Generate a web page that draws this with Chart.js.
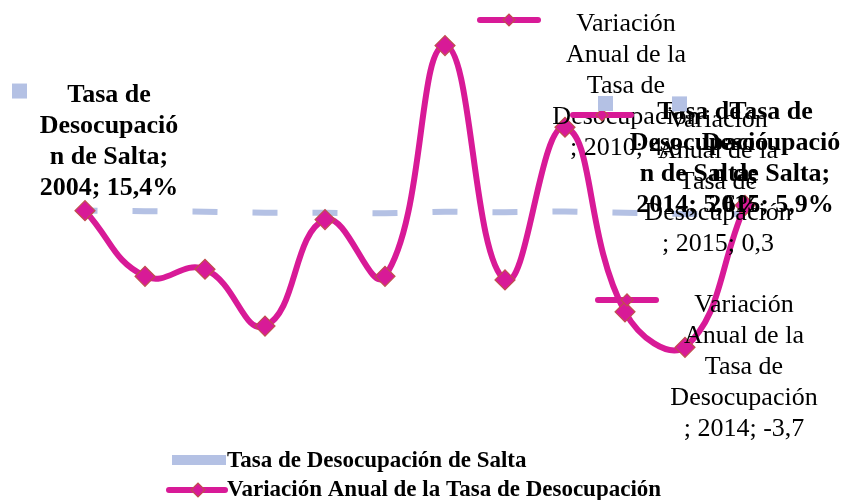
<!DOCTYPE html>
<html>
<head>
<meta charset="utf-8">
<script src="https://cdn.jsdelivr.net/npm/chart.js@4"></script>
<style>
  body { margin: 0; background: #fff; }
</style>
</head>
<body>
<canvas id="chart" width="844" height="500"></canvas>
<script>
// data
const years = ["2004", "2005", "2006", "2007", "2008", "2009", "2010", "2011", "2012", "2013", "2014", "2015"];
const tasaSalta = [15.4, 13.7, 12.2, 9.1, 9.1, 7.4, 12.2, 10.4, 12.9, 9.3, 5.6, 5.9]; // %
const variacion = [0.15, -1.7, -1.5, -3.1, -0.1, -1.7, 4.8, -1.8, 2.5, -2.7, -3.7, 0.3];
const yMin = -4;
const yMax = 6;

const magenta = "#D81A97";
const markerEdge = "#C0504D";
const blue = "#B4C1E4";
const serif = "'Liberation Serif', 'Times New Roman', serif";

// data labels (Excel style, with legend keys); dx/dy relative to the point
const labels = [
  { ds: 0, i: 0, bold: true, dx: 24, dy: -115.5, kx: -89.5, ky: -4 },
  { ds: 1, i: 6, bold: false, dx: 181, dy: -21.6, kx: -117, ky: -4 },
  { ds: 1, i: 11, bold: false, dx: -27, dy: -85.4, kx: -116, ky: -5 },
  { ds: 1, i: 10, bold: false, dx: 59, dy: -42.4, kx: -117, ky: -5 },
  { ds: 0, i: 10, bold: true, dx: 14, dy: -102, kx: -93.5, ky: -8.5 },
  { ds: 0, i: 11, bold: true, dx: 26, dy: -102, kx: -91.5, ky: -8 },
];

const fmt = (v) => String(v).replace(".", ",");

function labelLines(l) {
  if (l.ds === 0) {
    return ["Tasa de", "Desocupació", "n de Salta;", years[l.i] + "; " + fmt(tasaSalta[l.i]) + "%"];
  }
  return ["Variación", "Anual de la", "Tasa de", "Desocupación", "; " + years[l.i] + "; " + fmt(variacion[l.i])];
}

function diamond(ctx, x, y, r) {
  ctx.beginPath();
  ctx.moveTo(x - r, y);
  ctx.lineTo(x, y - r);
  ctx.lineTo(x + r, y);
  ctx.lineTo(x, y + r);
  ctx.closePath();
  ctx.fillStyle = magenta;
  ctx.fill();
  ctx.lineWidth = 1.2;
  ctx.strokeStyle = markerEdge;
  ctx.stroke();
}

function lineKey(ctx, cx, cy) {
  ctx.beginPath();
  ctx.moveTo(cx - 29, cy);
  ctx.lineTo(cx + 29, cy);
  ctx.lineWidth = 6;
  ctx.lineCap = "round";
  ctx.strokeStyle = magenta;
  ctx.stroke();
  diamond(ctx, cx, cy, 6);
}

const labelPlugin = {
  id: "excelLabels",
  afterDatasetsDraw(chart) {
    const ctx = chart.ctx;
    const xs = chart.scales.x;
    const ys = chart.scales.y;
    ctx.save();
    labels.forEach((l) => {
      const px = xs.getPixelForValue(l.i);
      const val = l.ds === 0 ? tasaSalta[l.i] / 100 : variacion[l.i];
      const py = ys.getPixelForValue(val);
      const cx = px + l.dx;
      const cy = py + l.dy;
      // legend key
      if (l.ds === 0) {
        ctx.fillStyle = blue;
        ctx.fillRect(cx + l.kx - 7.5, cy + l.ky - 7.5, 15, 15);
      } else {
        lineKey(ctx, cx + l.kx, cy + l.ky);
      }
      ctx.fillStyle = "#000";
      ctx.textAlign = "center";
      ctx.textBaseline = "middle";
      ctx.font = (l.bold ? "bold " : "") + "26px " + serif;
      labelLines(l).forEach((t, k) => {
        ctx.fillText(t, cx, cy + k * 31);
      });
    });

    // legend at the bottom
    ctx.fillStyle = blue;
    ctx.fillRect(172, 455, 54, 10);
    ctx.beginPath();
    ctx.moveTo(169, 490);
    ctx.lineTo(225, 490);
    ctx.lineWidth = 6;
    ctx.lineCap = "round";
    ctx.strokeStyle = magenta;
    ctx.stroke();
    diamond(ctx, 198, 490, 7);
    ctx.fillStyle = "#000";
    ctx.textAlign = "left";
    ctx.textBaseline = "middle";
    ctx.font = "bold 23px " + serif;
    ctx.fillText(chart.data.datasets[0].label, 227, 461);
    ctx.fillText(chart.data.datasets[1].label, 227, 490);
    ctx.restore();
  },
};

new Chart(document.getElementById("chart"), {
  type: "line",
  data: {
    labels: years,
    datasets: [
      {
        label: "Tasa de Desocupación de Salta",
        data: tasaSalta.map((v) => v / 100),
        borderColor: blue,
        borderWidth: 6,
        borderDash: [25, 35],
        borderDashOffset: 12.5,
        borderCapStyle: "butt",
        pointRadius: 0,
        tension: 0,
        order: 2,
        clip: false,
      },
      {
        label: "Variación Anual de la Tasa de Desocupación",
        data: variacion,
        borderColor: magenta,
        borderWidth: 6,
        tension: 0.45,
        pointStyle: "rectRot",
        pointRadius: 10,
        pointBackgroundColor: magenta,
        pointBorderColor: markerEdge,
        pointBorderWidth: 1.2,
        order: 1,
        clip: false,
      },
    ],
  },
  options: {
    responsive: false,
    animation: false,
    layout: { autoPadding: false, padding: { left: 55, right: 69, top: 3, bottom: 142 } },
    scales: {
      x: { display: false, offset: true },
      y: { display: false, min: yMin, max: yMax },
    },
    plugins: {
      legend: { display: false },
      tooltip: { enabled: false },
    },
  },
  plugins: [labelPlugin],
});
</script>
</body>
</html>
